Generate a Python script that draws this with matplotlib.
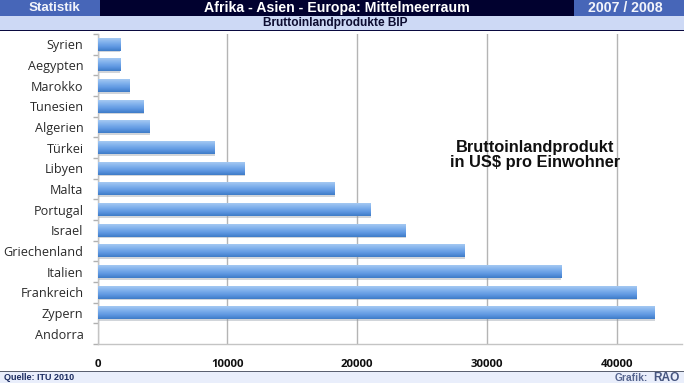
import numpy as np
import matplotlib
matplotlib.use("Agg")
import matplotlib.pyplot as plt
from matplotlib.patches import Rectangle
from matplotlib.colors import LinearSegmentedColormap

countries = ["Syrien", "Aegypten", "Marokko", "Tunesien", "Algerien", "Türkei", "Libyen", "Malta",
             "Portugal", "Israel", "Griechenland", "Italien", "Frankreich", "Zypern", "Andorra"]
values = [1700, 1700, 2450, 3500, 4000, 9000, 11300, 18250, 21000, 23700, 28250, 35700, 41500, 42900, 0]
xticks = [0, 10000, 20000, 30000, 40000]

W, H = 684, 383
fig = plt.figure(figsize=(W / 100, H / 100), dpi=100, facecolor="white")
HEAD = "Liberation Sans"

def band(x0, y0, x1, y1, color):
    fig.add_artist(Rectangle((x0 / W, 1 - y1 / H), (x1 - x0) / W, (y1 - y0) / H,
                             transform=fig.transFigure, fc=color, ec="none", zorder=1))

def label(x, y, s, **kw):
    fig.text(x / W, 1 - y / H, s, family=HEAD, fontweight="bold", va="center", zorder=3, **kw)

band(0, 0, 684, 16, "#01012f")
band(0, 0, 100, 16, "#4766b8")
band(574, 0, 684, 16, "#4766b8")
band(0, 16, 684, 30, "#cdd9f5")
band(0, 30, 684, 31, "#0a0a40")
band(0, 371, 684, 372, "#5a6070")
band(0, 372, 684, 383, "#e9eefb")

label(29, 8, "Statistik", color="#f2f4fb", fontsize=9.6, ha="left")
label(337, 8, "Afrika - Asien - Europa: Mittelmeerraum", color="white", fontsize=10.2, ha="center")
label(625, 8, "2007 / 2008", color="#f2f4fb", fontsize=10.2, ha="center")
label(335.5, 23, "Bruttoinlandprodukte BIP", color="#0c0c30", fontsize=8.6, ha="center")
label(4, 378, "Quelle: ITU 2010", color="#1c2c60", fontsize=6.5, ha="left")
label(615, 378, "Grafik:", color="#56658f", fontsize=7.4, ha="left")
label(653, 378, "RAO", color="#46557f", fontsize=8.6, ha="left")

x0px, x1px, ytop, ybot = 97.5, 682, 34, 344
ax = fig.add_axes([x0px / W, 1 - ybot / H, (x1px - x0px) / W, (ybot - ytop) / H], zorder=2)
ax.patch.set_alpha(0)
xmax = 10000 * (x1px - x0px) / 129.75

cmap = LinearSegmentedColormap.from_list("bar", ["#a4c8f2", "#7fb0ec", "#5f98e2", "#3f7cc8"])
grad = np.linspace(0, 1, 32).reshape(-1, 1)
bars = ax.barh(countries, values, height=0.62, color="none", zorder=3)
for b in bars:
    w = b.get_width()
    if w <= 0:
        continue
    y, h = b.get_y(), b.get_height()
    ax.add_patch(Rectangle((b.get_x(), y + 0.07), w + 50, h, fc="#8d97a3", ec="none", alpha=0.4, zorder=2.5))
    ax.imshow(grad, cmap=cmap, extent=(b.get_x(), b.get_x() + w, y + h, y), aspect="auto",
              interpolation="bilinear", zorder=3)
ax.set_xlim(0, xmax)
ax.set_ylim(len(countries) - 0.5, -0.5)

ax.set_xticks(xticks)
ax.set_yticks(np.arange(-0.5, len(countries)), minor=True)
ax.tick_params(axis="y", which="major", length=0, pad=10, labelsize=9.1, labelcolor="#2a2a2a")
ax.tick_params(axis="y", which="minor", length=3.5, color="#b0b0b0", width=1)
ax.tick_params(axis="x", length=0, pad=11, labelsize=8.2, labelcolor="#101010")
for t in ax.get_yticklabels():
    t.set_family("Open Sans")
for t in ax.get_xticklabels():
    t.set_family("Open Sans")
    t.set_fontweight("bold")
ax.grid(axis="x", color="#b4b4b4", lw=1.0, zorder=1)
ax.set_axisbelow(True)
for s in ["top", "right"]:
    ax.spines[s].set_visible(False)
for s in ["left", "bottom"]:
    ax.spines[s].set_color("#c4c4c4")
    ax.spines[s].set_linewidth(1)

fig.text(535 / W, 1 - 155 / H, "Bruttoinlandprodukt\nin US\\$ pro Einwohner", family=HEAD, fontweight="bold",
         fontsize=11.8, color="#101010", ha="center", va="center", linespacing=0.95, zorder=4)

fig.savefig("out.png", dpi=100)
